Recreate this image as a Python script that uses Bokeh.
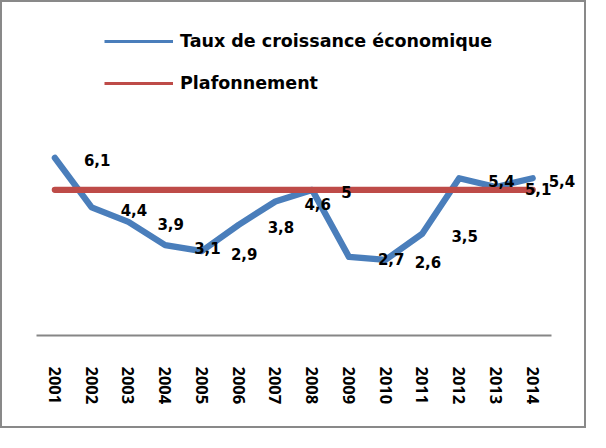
from bokeh.plotting import figure
from bokeh.models import (ColumnDataSource, Legend, LegendItem, Range1d,
                          LabelSet, FixedTicker)
from bokeh.embed import file_html
from bokeh.resources import INLINE
from bokeh.core.properties import value

# ---- data ----
years = ["2001", "2002", "2003", "2004", "2005", "2006", "2007",
         "2008", "2009", "2010", "2011", "2012", "2013", "2014"]
growth = [6.1, 4.4, 3.9, 3.1, 2.9, 3.8, 4.6, 5.0, 2.7, 2.6, 3.5, 5.4, 5.1, 5.4]
ceiling = [5.0] * len(years)
series_names = ["Taux de croissance économique", "Plafonnement"]

# ---- style ----
BLUE = "#4A7EBB"
RED = "#BE4B48"
LABEL_DX = 29
LAST_LABEL_DX = 16

n = len(years)
xs = [i + 0.5 for i in range(n)]          # category centres
labels = [f"{v:g}".replace(".", ",") for v in growth]
dx = [LABEL_DX] * (n - 1) + [LAST_LABEL_DX]

src = ColumnDataSource(dict(x=xs, year=years, growth=growth, ceiling=ceiling,
                            label=labels, dx=dx))

p = figure(width=586, height=428,
           x_range=Range1d(0, 14.91),
           y_range=Range1d(0, 11.09),
           output_backend="svg", toolbar_location=None,
           y_axis_location=None,
           min_border_left=34, min_border_right=4,
           min_border_top=10, min_border_bottom=95)
p.styles = {"border": "2px solid #898989"}
p.grid.visible = False
p.outline_line_color = None
p.background_fill_color = "white"
p.border_fill_color = "white"

p.line("x", "growth", source=src, line_color=BLUE, line_width=6.3,
       line_cap="round", line_join="round")
p.line("x", "ceiling", source=src, line_color=RED, line_width=6.3,
       line_cap="round", line_join="round")

# thin legend-only renderers
lb = p.line("x", "growth", source=src, line_color=BLUE, line_width=3, visible=False)
lr = p.line("x", "ceiling", source=src, line_color=RED, line_width=3, visible=False)

labelset = LabelSet(x="x", y="growth", text="label", source=src,
                    x_offset="dx", y_offset=-2.5,
                    text_font=value("DejaVu Sans"), text_font_style="bold",
                    text_font_size="15px", text_color="black",
                    text_align="left", text_baseline="middle")
p.add_layout(labelset)

legend = Legend(items=[LegendItem(label=value(series_names[0]), renderers=[lb]),
                       LegendItem(label=value(series_names[1]), renderers=[lr])],
                location=(68, 242), padding=0, margin=0,
                border_line_color=None, background_fill_alpha=0,
                glyph_width=69, glyph_height=20, label_height=20,
                spacing=22, label_standoff=7,
                label_text_font="DejaVu Sans", label_text_font_style="bold",
                label_text_font_size="17.5px", label_text_color="black")
p.add_layout(legend)

ax = p.xaxis[0]
ax.ticker = FixedTicker(ticks=xs)
ax.major_label_overrides = {x: y for x, y in zip(xs, years)}
ax.bounds = (0, n)
ax.axis_line_color = "#868686"
ax.axis_line_width = 2
ax.major_tick_line_color = None
ax.minor_tick_line_color = None
ax.major_label_orientation = "vertical"
ax.major_label_standoff = 25
ax.major_label_text_font = "Open Sans"
ax.major_label_text_font_style = "bold"
ax.major_label_text_font_size = "16.5px"
ax.major_label_text_color = "black"

open("out.html", "w").write(file_html(p, INLINE))
